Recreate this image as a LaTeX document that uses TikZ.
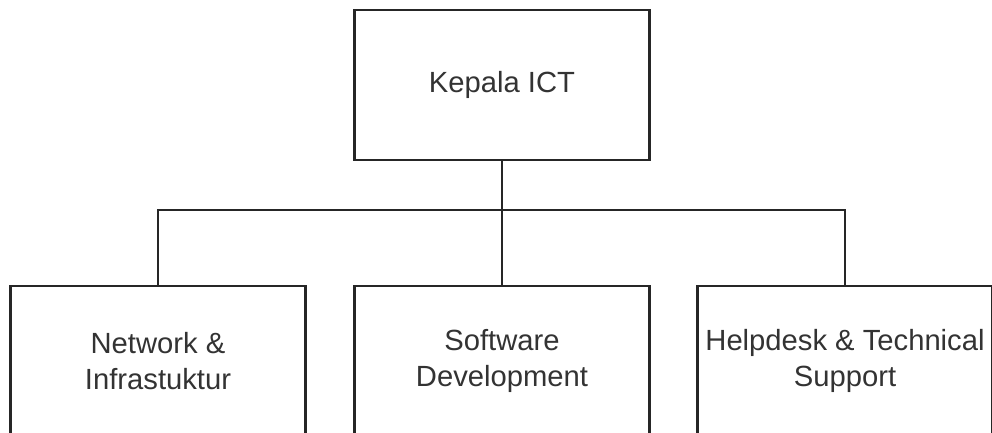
\documentclass[tikz,border=0pt]{standalone}
\usepackage{fontspec}
\setmainfont{Liberation Sans}
\begin{document}
\begin{tikzpicture}[x=0.5pt,y=-0.5pt,
    unitbox/.style={draw=black!85,line width=1.3pt,minimum width=147.5pt,minimum height=75pt,
        inner sep=0pt,align=center,text=black!80,font=\fontsize{14.6}{18}\selectfont},
    orgline/.style={draw=black!85,line width=1.3pt}]
    \useasboundingbox (0,0) rectangle (992,433);
    \clip (0,0) rectangle (992,433);

    \node[unitbox] (kepala) at (502,85) {Kepala ICT};
    \node[unitbox] (network) at (158,361) {Network \&\\Infrastuktur};
    \node[unitbox] (software) at (502,361) {Software\\Development};
    \node[unitbox] (helpdesk) at (845,361) {Helpdesk \& Technical\\Support};

    \coordinate (split) at (502,210);
    \draw[orgline] (kepala.south) -- (software.north);
    \draw[orgline] (split) -| (network.north);
    \draw[orgline] (split) -| (helpdesk.north);
\end{tikzpicture}
\end{document}
